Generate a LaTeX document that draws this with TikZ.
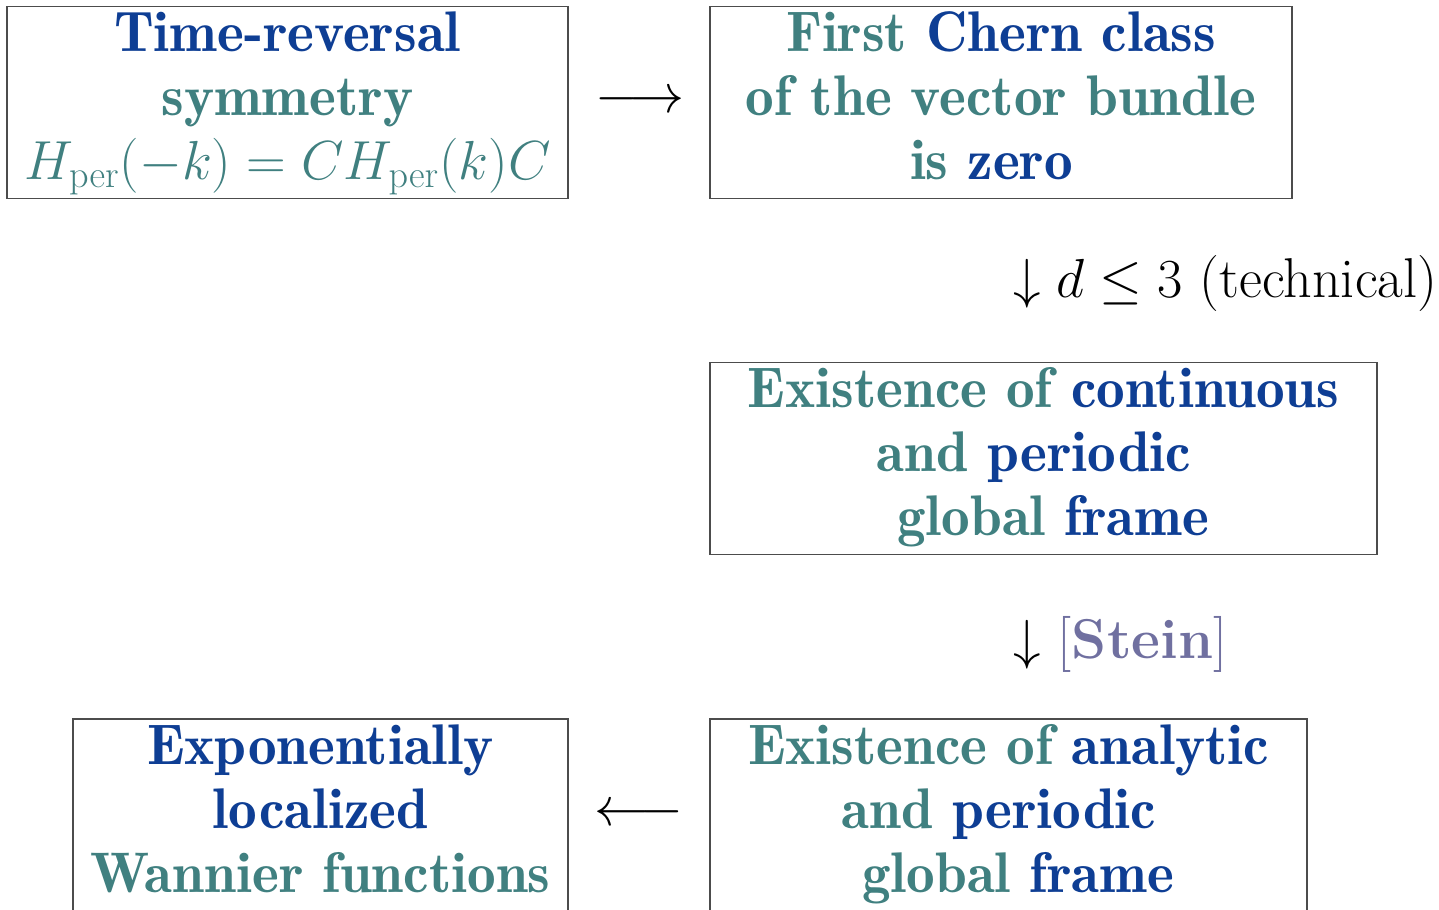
\documentclass[tikz,border=0pt]{standalone}
\usepackage{amsmath,amssymb}
\definecolor{cblue}{HTML}{0E3E94}
\definecolor{cteal}{HTML}{408080}
\definecolor{cstein}{HTML}{7070A0}
\newcommand{\B}[1]{{\color{cblue}#1}}
\newcommand{\T}[1]{{\color{cteal}#1}}
\def\pxu{0.4524}
\begin{document}
\begin{tikzpicture}[x=0.4524pt,y=-0.4524pt,
  box/.style={draw=black!70, line width=0.55pt, rectangle, inner sep=0pt,
    minimum height={191*\pxu pt}, align=center,
    font=\fontsize{25.9}{28.95}\selectfont\fontseries{b}\selectfont},
  lbl/.style={inner sep=0pt, font=\fontsize{25.4}{28.95}\selectfont}]
\useasboundingbox (0,0) rectangle (1439,909);
\clip (0,0) rectangle (1439,909);
\node[box, minimum width={561*\pxu pt}] (trs) at (287.5,102.5)
  {\strut\B{Time-reversal}\\ \T{symmetry}\\ \T{$H_{\mathrm{per}}(-k)=CH_{\mathrm{per}}(k)C$}\strut};
\node[box, minimum width={582*\pxu pt}] (chern) at (1001,102.5)
  {\strut\T{First} \B{Chern class}\\ \T{of the vector bundle}\\ \T{is} \B{zero}~\strut};
\node[box, minimum width={667*\pxu pt}] (cont) at (1043.5,458.5)
  {\strut\T{Existence of} \B{continuous}\\ \T{and} \B{periodic}~\mbox{}\\ ~\T{global} \B{frame}\strut};
\node[box, minimum width={597*\pxu pt}, minimum height={193*\pxu pt}] (anal) at (1008.5,815.5)
  {\strut\T{Existence of} \B{analytic}\\ \T{and} \B{periodic}~\mbox{}\\ ~\T{global} \B{frame}\strut};
\node[box, minimum width={495*\pxu pt}, minimum height={193*\pxu pt}] (wann) at (320.5,815.5)
  {\strut\B{Exponentially}\\ \B{localized}\\ \T{Wannier functions}\strut};
\node[lbl] (a1) at (640,102) {$\longrightarrow$};
\node[lbl] (a4) at (639,815) {$\longleftarrow$};
\node[lbl, anchor=base west] (a2) at (1013,297) {$\downarrow d\leq 3$ (technical)};
\node[lbl, anchor=base west] (a3) at (1013,658) {$\downarrow$ \textcolor{cstein}{[\textbf{Stein}]}};
\end{tikzpicture}
\end{document}
